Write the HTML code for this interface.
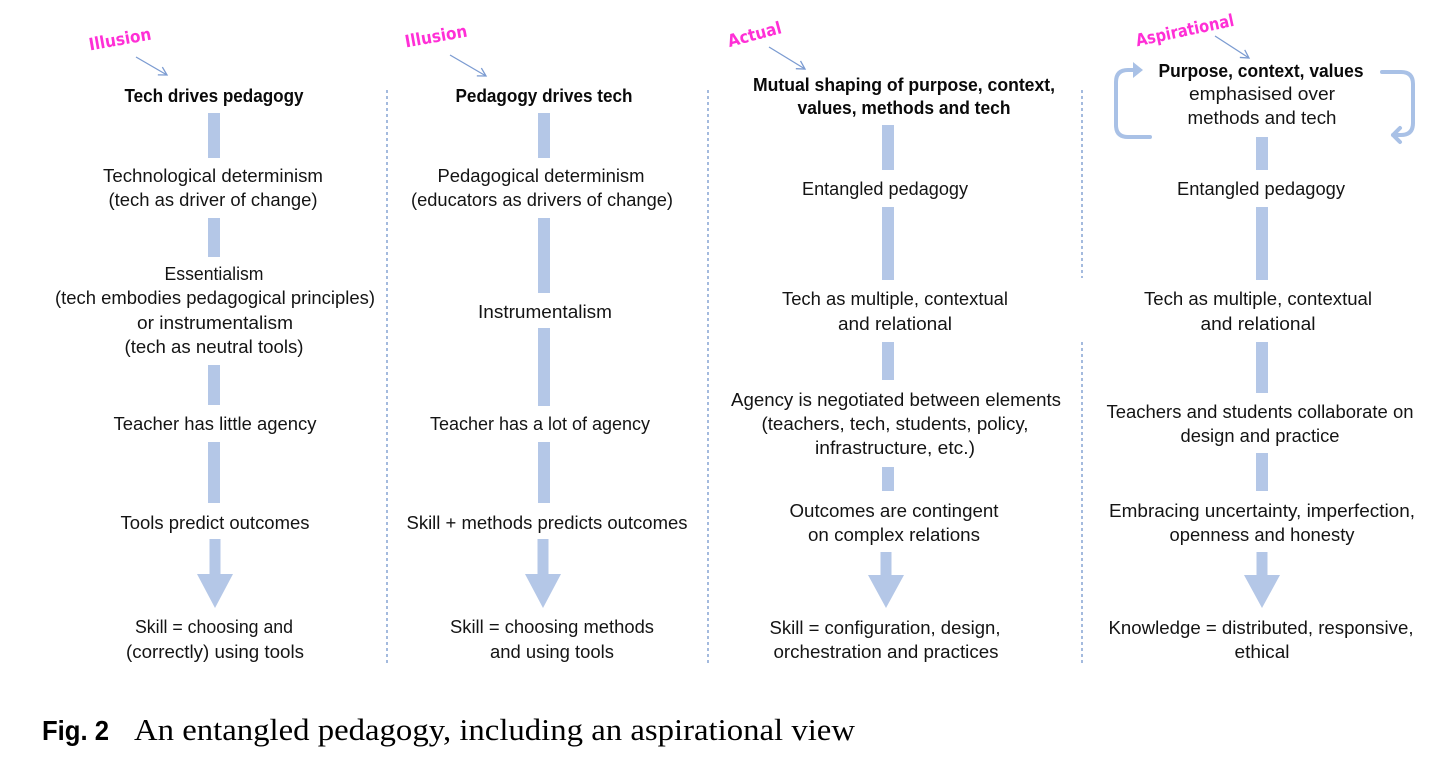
<!DOCTYPE html>
<html>
<head>
<meta charset="utf-8">
<style>
  html, body { margin: 0; padding: 0; background: #ffffff; }
  svg { display: block; }
  .t { font-family: "Liberation Sans", sans-serif; font-size: 18px; fill: #141414; text-anchor: middle; }
  .b { font-family: "Liberation Sans", sans-serif; font-size: 18px; font-weight: bold; fill: #0a0a0a; text-anchor: middle; }
  .p { font-family: "DejaVu Sans", "Liberation Sans", sans-serif; font-size: 17px; font-weight: bold; fill: #ff2fd6; text-anchor: middle; }
  .bar { fill: #b4c7e7; }
  .div { stroke: #8eaad6; stroke-width: 1.6; stroke-dasharray: 3 3; fill: none; }
  .pa { stroke: #7b9bd1; stroke-width: 1.3; fill: none; }
  .cyc { stroke: #a9c1e6; stroke-width: 4; fill: none; stroke-linecap: round; stroke-linejoin: round; }
</style>
</head>
<body>
<svg width="1453" height="780" viewBox="0 0 1453 780" xmlns="http://www.w3.org/2000/svg">
  <defs>
    <marker id="ah" markerWidth="12" markerHeight="12" refX="8" refY="0" orient="auto" markerUnits="userSpaceOnUse" viewBox="-1 -6 11 12">
      <path d="M0,-4.5 L8,0 L0,4.5" stroke="#7b9bd1" stroke-width="1.3" fill="none"/>
    </marker>
  </defs>

  <!-- Dividers -->
  <line class="div" x1="387" y1="90" x2="387" y2="666"/>
  <line class="div" x1="708" y1="90" x2="708" y2="666"/>
  <line class="div" x1="1082" y1="90" x2="1082" y2="278"/>
  <line class="div" x1="1082" y1="342" x2="1082" y2="666"/>

  <!-- Pink labels -->
  <text class="p" transform="translate(121,45) rotate(-10)" textLength="63" lengthAdjust="spacingAndGlyphs">Illusion</text>
  <line class="pa" x1="136" y1="57" x2="167" y2="75" marker-end="url(#ah)"/>

  <text class="p" transform="translate(437,42) rotate(-10)" textLength="63" lengthAdjust="spacingAndGlyphs">Illusion</text>
  <line class="pa" x1="450" y1="55" x2="486" y2="76" marker-end="url(#ah)"/>

  <text class="p" transform="translate(756,40) rotate(-15)" textLength="55" lengthAdjust="spacingAndGlyphs">Actual</text>
  <line class="pa" x1="769" y1="47" x2="805" y2="69" marker-end="url(#ah)"/>

  <text class="p" transform="translate(1186,36) rotate(-12)" textLength="100" lengthAdjust="spacingAndGlyphs">Aspirational</text>
  <line class="pa" x1="1215" y1="36" x2="1249" y2="58" marker-end="url(#ah)"/>

  <!-- Column 1 -->
  <text class="b" x="214" y="102" textLength="179" lengthAdjust="spacingAndGlyphs">Tech drives pedagogy</text>
  <rect class="bar" x="208" y="113" width="12" height="45"/>
  <text class="t" x="213" y="182" textLength="220" lengthAdjust="spacingAndGlyphs">Technological determinism</text>
  <text class="t" x="213" y="206" textLength="209" lengthAdjust="spacingAndGlyphs">(tech as driver of change)</text>
  <rect class="bar" x="208" y="218" width="12" height="39"/>
  <text class="t" x="214" y="280" textLength="99" lengthAdjust="spacingAndGlyphs">Essentialism</text>
  <text class="t" x="215" y="304" textLength="320" lengthAdjust="spacingAndGlyphs">(tech embodies pedagogical principles)</text>
  <text class="t" x="215" y="329" textLength="156" lengthAdjust="spacingAndGlyphs">or instrumentalism</text>
  <text class="t" x="214" y="353" textLength="179" lengthAdjust="spacingAndGlyphs">(tech as neutral tools)</text>
  <rect class="bar" x="208" y="365" width="12" height="40"/>
  <text class="t" x="215" y="430" textLength="203" lengthAdjust="spacingAndGlyphs">Teacher has little agency</text>
  <rect class="bar" x="208" y="442" width="12" height="61"/>
  <text class="t" x="215" y="529" textLength="189" lengthAdjust="spacingAndGlyphs">Tools predict outcomes</text>
  <path class="bar" d="M209.5,539 L220.5,539 L220.5,574 L233,574 L215,608 L197,574 L209.5,574 Z"/>
  <text class="t" x="214" y="633" textLength="158" lengthAdjust="spacingAndGlyphs">Skill = choosing and</text>
  <text class="t" x="215" y="658" textLength="178" lengthAdjust="spacingAndGlyphs">(correctly) using tools</text>

  <!-- Column 2 -->
  <text class="b" x="544" y="102" textLength="177" lengthAdjust="spacingAndGlyphs">Pedagogy drives tech</text>
  <rect class="bar" x="538" y="113" width="12" height="45"/>
  <text class="t" x="541" y="182" textLength="207" lengthAdjust="spacingAndGlyphs">Pedagogical determinism</text>
  <text class="t" x="542" y="206" textLength="262" lengthAdjust="spacingAndGlyphs">(educators as drivers of change)</text>
  <rect class="bar" x="538" y="218" width="12" height="75"/>
  <text class="t" x="545" y="318" textLength="134" lengthAdjust="spacingAndGlyphs">Instrumentalism</text>
  <rect class="bar" x="538" y="328" width="12" height="78"/>
  <text class="t" x="540" y="430" textLength="220" lengthAdjust="spacingAndGlyphs">Teacher has a lot of agency</text>
  <rect class="bar" x="538" y="442" width="12" height="61"/>
  <text class="t" x="547" y="529" textLength="281" lengthAdjust="spacingAndGlyphs">Skill + methods predicts outcomes</text>
  <path class="bar" d="M537.5,539 L548.5,539 L548.5,574 L561,574 L543,608 L525,574 L537.5,574 Z"/>
  <text class="t" x="552" y="633" textLength="204" lengthAdjust="spacingAndGlyphs">Skill = choosing methods</text>
  <text class="t" x="552" y="658" textLength="124" lengthAdjust="spacingAndGlyphs">and using tools</text>

  <!-- Column 3 -->
  <text class="b" x="904" y="91" textLength="302" lengthAdjust="spacingAndGlyphs">Mutual shaping of purpose, context,</text>
  <text class="b" x="904" y="114" textLength="213" lengthAdjust="spacingAndGlyphs">values, methods and tech</text>
  <rect class="bar" x="882" y="125" width="12" height="45"/>
  <text class="t" x="885" y="195" textLength="166" lengthAdjust="spacingAndGlyphs">Entangled pedagogy</text>
  <rect class="bar" x="882" y="207" width="12" height="73"/>
  <text class="t" x="895" y="305" textLength="226" lengthAdjust="spacingAndGlyphs">Tech as multiple, contextual</text>
  <text class="t" x="895" y="330" textLength="114" lengthAdjust="spacingAndGlyphs">and relational</text>
  <rect class="bar" x="882" y="342" width="12" height="38"/>
  <text class="t" x="896" y="406" textLength="330" lengthAdjust="spacingAndGlyphs">Agency is negotiated between elements</text>
  <text class="t" x="895" y="430" textLength="267" lengthAdjust="spacingAndGlyphs">(teachers, tech, students, policy,</text>
  <text class="t" x="895" y="454" textLength="160" lengthAdjust="spacingAndGlyphs">infrastructure, etc.)</text>
  <rect class="bar" x="882" y="467" width="12" height="24"/>
  <text class="t" x="894" y="517" textLength="209" lengthAdjust="spacingAndGlyphs">Outcomes are contingent</text>
  <text class="t" x="894" y="541" textLength="172" lengthAdjust="spacingAndGlyphs">on complex relations</text>
  <path class="bar" d="M880.5,552 L891.5,552 L891.5,575 L904,575 L886,608 L868,575 L880.5,575 Z"/>
  <text class="t" x="885" y="634" textLength="231" lengthAdjust="spacingAndGlyphs">Skill = configuration, design,</text>
  <text class="t" x="886" y="658" textLength="225" lengthAdjust="spacingAndGlyphs">orchestration and practices</text>

  <!-- Column 4 -->
  <path class="cyc" d="M1150,137 L1128,137 Q1116,137 1116,125 L1116,82 Q1116,70 1128,70 L1134,70"/>
  <path d="M1133,62 L1143,70 L1133,78 Z" fill="#a9c1e6"/>
  <path class="cyc" d="M1382,72 L1401,72 Q1413,72 1413,84 L1413,123 Q1413,135 1401,135 L1393,135"/>
  <path class="cyc" d="M1400,128 L1393,135 L1400,142"/>

  <text class="b" x="1261" y="77" textLength="205" lengthAdjust="spacingAndGlyphs">Purpose, context, values</text>
  <text class="t" x="1262" y="100" textLength="146" lengthAdjust="spacingAndGlyphs">emphasised over</text>
  <text class="t" x="1262" y="124" textLength="149" lengthAdjust="spacingAndGlyphs">methods and tech</text>
  <rect class="bar" x="1256" y="137" width="12" height="33"/>
  <text class="t" x="1261" y="195" textLength="168" lengthAdjust="spacingAndGlyphs">Entangled pedagogy</text>
  <rect class="bar" x="1256" y="207" width="12" height="73"/>
  <text class="t" x="1258" y="305" textLength="228" lengthAdjust="spacingAndGlyphs">Tech as multiple, contextual</text>
  <text class="t" x="1258" y="330" textLength="115" lengthAdjust="spacingAndGlyphs">and relational</text>
  <rect class="bar" x="1256" y="342" width="12" height="51"/>
  <text class="t" x="1260" y="418" textLength="307" lengthAdjust="spacingAndGlyphs">Teachers and students collaborate on</text>
  <text class="t" x="1260" y="442" textLength="159" lengthAdjust="spacingAndGlyphs">design and practice</text>
  <rect class="bar" x="1256" y="453" width="12" height="38"/>
  <text class="t" x="1262" y="517" textLength="306" lengthAdjust="spacingAndGlyphs">Embracing uncertainty, imperfection,</text>
  <text class="t" x="1262" y="541" textLength="185" lengthAdjust="spacingAndGlyphs">openness and honesty</text>
  <path class="bar" d="M1256.5,552 L1267.5,552 L1267.5,575 L1280,575 L1262,608 L1244,575 L1256.5,575 Z"/>
  <text class="t" x="1261" y="634" textLength="305" lengthAdjust="spacingAndGlyphs">Knowledge = distributed, responsive,</text>
  <text class="t" x="1262" y="658" textLength="55" lengthAdjust="spacingAndGlyphs">ethical</text>

  <!-- Caption -->
  <text x="42" y="740" font-family="'Liberation Sans', sans-serif" font-weight="bold" font-size="28" fill="#000" textLength="67" lengthAdjust="spacingAndGlyphs">Fig. 2</text>
  <text x="134" y="740" font-family="'Liberation Serif', serif" font-size="31" fill="#000" textLength="721" lengthAdjust="spacingAndGlyphs">An entangled pedagogy, including an aspirational view</text>
</svg>
</body>
</html>
